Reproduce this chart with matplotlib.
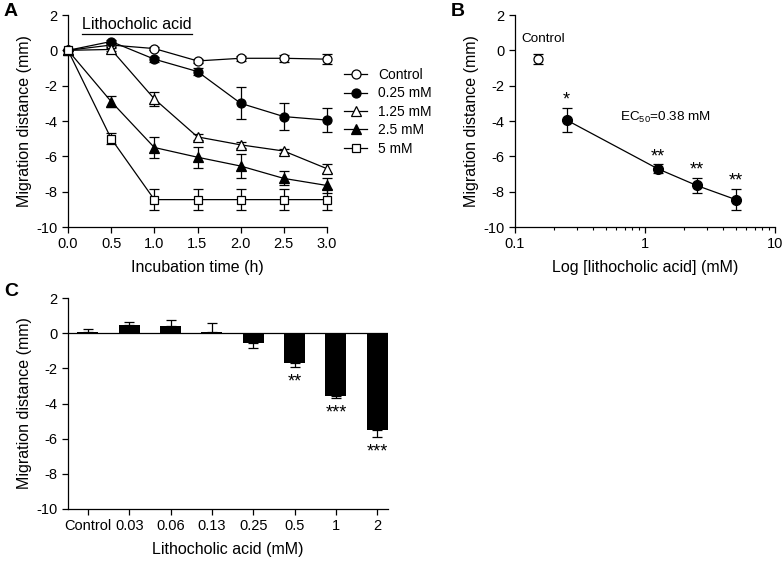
import numpy as np
import matplotlib
matplotlib.use("Agg")
import matplotlib.pyplot as plt

plt.rcParams['font.family'] = ['Liberation Sans', 'DejaVu Sans']
plt.rcParams['mathtext.fontset'] = 'custom'
plt.rcParams['mathtext.rm'] = 'Liberation Sans'
plt.rcParams['mathtext.it'] = 'Liberation Sans'
plt.rcParams['axes.unicode_minus'] = False
plt.rcParams['axes.linewidth'] = 0.9
plt.rcParams['xtick.direction'] = 'out'
plt.rcParams['ytick.direction'] = 'out'

# ---- panel A data ----
time_h = [0.0, 0.5, 1.0, 1.5, 2.0, 2.5, 3.0]
ctrl_mean = [0, 0.3, 0.1, -0.6, -0.45, -0.45, -0.5]
ctrl_err = [0, 0.1, 0.1, 0.1, 0.15, 0.2, 0.3]
c025_mean = [0, 0.5, -0.5, -1.2, -3.0, -3.75, -3.95]
c025_err = [0, 0.1, 0.15, 0.2, 0.9, 0.75, 0.7]
c125_mean = [0, 0.05, -2.75, -4.9, -5.35, -5.7, -6.7]
c125_err = [0, 0.1, 0.4, 0.15, 0.15, 0.1, 0.25]
c25_mean = [0, -2.9, -5.5, -6.05, -6.55, -7.25, -7.65]
c25_err = [0, 0.3, 0.6, 0.6, 0.7, 0.4, 0.45]
c5_mean = [0, -5.0, -8.45, -8.45, -8.45, -8.45, -8.45]
c5_err = [0, 0.3, 0.6, 0.6, 0.6, 0.6, 0.6]
series_labels = ['Control', '0.25 mM', '1.25 mM', '2.5 mM', '5 mM']

# ---- panel B data ----
ctrl_x = 0.15
ctrl_y = -0.5
ctrl_yerr = 0.3
conc_mM = [0.25, 1.25, 2.5, 5.0]
dist_b = [-3.95, -6.7, -7.65, -8.45]
err_b = [0.7, 0.25, 0.45, 0.6]
stars_b = ['*', '**', '**', '**']

# ---- panel C data ----
conc_labels = ['Control', '0.03', '0.06', '0.13', '0.25', '0.5', '1', '2']
dist_c = [0.04, 0.47, 0.43, 0.04, -0.55, -1.7, -3.6, -5.5]
err_c = [0.17, 0.15, 0.3, 0.55, 0.3, 0.25, 0.1, 0.4]
stars_c = ['', '', '', '', '', '**', '***', '***']

W, H = 782, 561
fig = plt.figure(figsize=(W / 100, H / 100), dpi=100)

def px_axes(left, top, right, bottom):
    return fig.add_axes([left / W, 1 - bottom / H, (right - left) / W, (bottom - top) / H])

tick_fs = 10.5
lab_fs = 11.5
star_fs = 13

def style(ax):
    ax.spines['top'].set_visible(False)
    ax.spines['right'].set_visible(False)
    ax.tick_params(labelsize=tick_fs, length=4, width=0.9)
    ax.set_ylim(-10, 2)
    ax.set_yticks([-10, -8, -6, -4, -2, 0, 2])
    ax.set_ylabel('Migration distance (mm)', fontsize=lab_fs, labelpad=3)

# ---------- A ----------
axA = px_axes(68, 15, 327, 227)
style(axA)
means = [ctrl_mean, c025_mean, c125_mean, c25_mean, c5_mean]
errs = [ctrl_err, c025_err, c125_err, c25_err, c5_err]
mk = ['o', 'o', '^', '^', 's']
fc = ['white', 'black', 'white', 'black', 'white']
ms = [6.5, 6.5, 6.5, 6.5, 5.5]
handles = []
for m, e, k, f, s, lab in zip(means, errs, mk, fc, ms, series_labels):
    axA.errorbar(time_h, m, yerr=e, fmt='none', ecolor='black', elinewidth=0.9,
                 capsize=3.8, capthick=0.9, clip_on=False, zorder=2)
    ln, = axA.plot(time_h, m, color='black', lw=0.9, marker=k, ms=s,
                   mfc=f, mec='black', mew=0.9, clip_on=False, zorder=3, label=lab)
    handles.append(ln)
axA.set_xlim(0, 3)
axA.set_xticks(time_h)
axA.set_xticklabels(['%.1f' % t for t in time_h])
axA.set_xlabel('Incubation time (h)', fontsize=lab_fs, labelpad=6)
ttl = axA.text(0.054, 0.955, 'Lithocholic acid', transform=axA.transAxes,
               fontsize=11.5, ha='left', va='center')
fig.legend(handles=handles, loc='upper left', bbox_to_anchor=(344 / W, 1 - 68 / H),
           frameon=False, fontsize=9.9, handlelength=1.7, handletextpad=0.8,
           labelspacing=0.32, numpoints=1, borderaxespad=0, borderpad=0)

# ---------- B ----------
axB = px_axes(515, 15, 775, 227)
style(axB)
axB.set_xscale('log')
axB.set_xlim(0.1, 10)
axB.set_xticks([0.1, 1, 10])
axB.set_xticklabels(['0.1', '1', '10'])
axB.tick_params(which='minor', length=2.5, width=0.8)
axB.errorbar([ctrl_x], [ctrl_y], yerr=[ctrl_yerr], fmt='o', ms=6.5, mfc='white',
             mec='black', mew=0.9, ecolor='black', elinewidth=0.9, capsize=3.8, capthick=0.9)
axB.errorbar(conc_mM, dist_b, yerr=err_b, fmt='o-', color='black', lw=0.9, ms=7,
             mfc='black', mec='black', ecolor='black', elinewidth=0.9, capsize=3.8, capthick=0.9)
axB.text(0.165, 0.3, 'Control', ha='center', va='bottom', fontsize=9.7)
for x, y, e, s in zip(conc_mM, dist_b, err_b, stars_b):
    axB.text(x, y + e - 0.05, s, ha='center', va='bottom', fontsize=star_fs)
axB.text(1.43, -3.8, 'EC$_{50}$=0.38 mM', ha='center', va='center', fontsize=9.7)
axB.set_xlabel('Log [lithocholic acid] (mM)', fontsize=lab_fs, labelpad=6)

# ---------- C ----------
axC = px_axes(68, 298, 388, 509)
style(axC)
xc = np.arange(len(conc_labels))
axC.bar(xc, dist_c, width=0.51, color='black', zorder=2)
for x, y, e, s in zip(xc, dist_c, err_c, stars_c):
    sgn = 1 if y >= 0 else -1
    axC.errorbar([x], [y], yerr=[[e if sgn < 0 else 0], [e if sgn > 0 else 0]],
                 fmt='none', ecolor='black', elinewidth=0.9, capsize=3.8, capthick=0.9, zorder=3)
    if s:
        axC.text(x, y - e - 0.35, s, ha='center', va='top', fontsize=star_fs)
axC.axhline(0, color='black', lw=0.9, zorder=4)
axC.set_xlim(-0.48, 7.26)
axC.set_xticks(xc)
axC.set_xticklabels(conc_labels)
axC.set_xlabel('Lithocholic acid (mM)', fontsize=lab_fs, labelpad=6)

# panel letters
fig.text(4 / W, 1 - 11 / H, 'A', fontsize=14, fontweight='bold', va='center')
fig.text(451 / W, 1 - 11 / H, 'B', fontsize=14, fontweight='bold', va='center')
fig.text(4 / W, 1 - 292 / H, 'C', fontsize=14, fontweight='bold', va='center')

# underline the title
fig.canvas.draw()
bb = ttl.get_window_extent().transformed(axA.transAxes.inverted())
axA.plot([bb.x0, bb.x1], [bb.y0 - 0.01, bb.y0 - 0.01], color='black', lw=0.9,
         transform=axA.transAxes, clip_on=False)

fig.savefig('out.png', dpi=100)
